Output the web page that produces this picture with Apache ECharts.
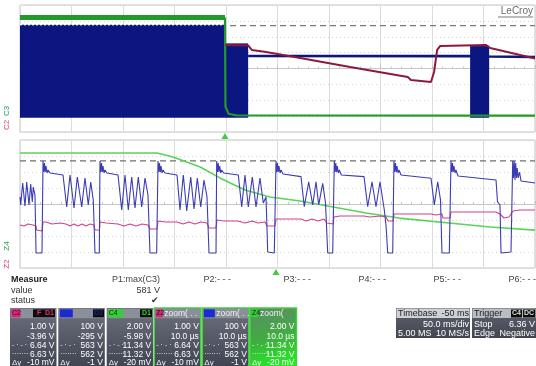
<!DOCTYPE html>
<html><head><meta charset="utf-8">
<script src="https://cdn.jsdelivr.net/npm/echarts@6.0.0/dist/echarts.min.js"></script>
<style>html,body{margin:0;padding:0;background:#fff}#c{width:536px;height:366px}</style>
</head><body><div id="c"></div>
<script>
// ===== DATA (screen divisions: x 0..10, y -4..4) =====
// Top panel (50 ms/div)
const topCursor = [[0, 2.70], [10, 2.70]];
const c3BlockTop = [[0, 2.76], [3.98, 2.76]];
const c3BurstA = [[3.98, 1.55], [4.43, 1.55]];
const c3BurstB = [[8.74, 1.40], [9.11, 1.40]];
const c3Floor = -3.10;
const c3Line = [[4.43, 0.79], [8.74, 0.78], [9.11, 0.76], [10, 0.72]];
const c4High = [[0, 3.22], [3.98, 3.22]];
const c4Low = [[3.98, 3.22], [3.99, -2.40], [4.05, -2.85], [4.20, -2.95], [10, -2.97]];
const c2Top = [[3.98, 1.48], [4.43, 1.45], [4.50, 1.17], [4.78, 1.04], [5.44, 0.66], [6.41, 0.09],
  [7.53, -0.54], [7.59, -0.72], [7.98, -0.85], [8.04, -0.22], [8.10, 1.17], [8.16, 1.42],
  [9.05, 1.48], [9.13, 1.29], [9.96, 0.66], [10, 0.63]];
const topTrigger = [3.98];

// Bottom panel (zoom, 10 us/div)
const bottomCursor = [[0, 2.69], [10, 2.69]];
const z4Green = [[0, 3.19], [2.66, 3.19], [2.82, 3.06], [2.97, 2.94], [3.50, 2.31], [3.88, 1.63],
  [4.37, 0.88], [4.85, 0.44], [5.44, 0.19], [6.08, -0.19], [6.72, -0.56], [7.36, -0.88],
  [8.33, -1.19], [9.13, -1.44], [10, -1.63]];
const z2Pink = [[0,-1.31],[0.078,-1.375],[0.155,-1.25],[0.252,-1.31],[0.311,-1.375],[0.320,-1.625],[0.427,-1.69],[0.447,-1.125],
  [0.505,-1.125],[0.621,-1.25],[0.777,-1.19],[0.893,-1.25],[0.971,-1.375],[1.049,-1.25],[1.126,-1.375],[1.204,-1.25],[1.282,-1.375],[1.359,-1.25],[1.437,-1.31],[1.456,-1.625],[1.544,-1.625],[1.553,-1.125],
  [1.670,-1.19],[1.903,-1.25],[2.019,-1.375],[2.136,-1.25],[2.252,-1.375],[2.369,-1.25],[2.485,-1.31],[2.524,-1.56],[2.660,-1.56],[2.680,-1.06],
  [2.816,-1.125],[3.049,-1.125],[3.165,-1.25],[3.282,-1.125],[3.398,-1.25],[3.515,-1.125],[3.631,-1.19],[3.670,-1.5],[3.806,-1.5],[3.825,-1.0],
  [3.961,-1.06],[4.233,-1.06],[4.369,-1.19],[4.505,-1.06],[4.621,-1.19],[4.757,-1.125],[4.796,-1.375],[4.951,-1.375],[4.971,-0.94],
  [5.107,-0.94],[5.456,-0.94],[5.553,-1.06],[5.670,-0.94],[5.786,-1.06],[5.903,-0.94],[5.961,-1.19],[6.078,-1.25],[6.097,-0.81],
  [6.214,-0.75],[6.680,-0.75],[6.796,-0.81],[6.990,-0.75],[7.107,-0.81],[7.146,-1.06],[7.243,-1.06],[7.262,-0.625],
  [7.379,-0.625],[7.981,-0.625],[8.078,-0.69],[8.194,-0.625],[8.214,-0.875],[8.350,-0.875],[8.369,-0.5],
  [8.505,-0.5],[9.243,-0.5],[9.320,-0.625],[9.398,-0.875],[9.495,-0.81],[9.573,-0.44],
  [9.709,-0.375],[10,-0.375]];
const zBlue = [
  [0,0.44],[0.014,-0.06],[0.052,1.31],[0.097,-0.13],[0.130,1.375],[0.175,-0.06],[0.208,1.25],[0.239,0.125],[0.258,1.06],[0.291,0.56],[0.311,-3.06],[0.427,-3.06],[0.447,2.69],
  [0.462,2.0],[0.476,2.56],[0.491,2.0],[0.505,2.375],[0.524,1.94],[0.544,2.125],[0.583,1.94],[0.835,1.81],
  [0.907,-0.19],[0.971,1.81],[1.049,-0.25],[1.113,1.69],[1.198,-0.19],[1.262,1.625],[1.326,-0.06],[1.373,1.375],[1.423,0.25],[1.456,-3.06],[1.540,-3.06],[1.553,2.69],
  [1.569,2.0],[1.583,2.56],[1.598,2.0],[1.612,2.375],[1.631,1.94],[1.650,2.125],[1.689,1.94],[1.903,1.81],
  [1.975,-0.375],[2.039,1.81],[2.103,-0.375],[2.169,1.69],[2.233,-0.25],[2.297,1.69],[2.363,-0.19],[2.427,1.625],[2.485,0.56],[2.524,-3.06],[2.654,-3.06],[2.680,2.69],
  [2.695,2.0],[2.709,2.56],[2.724,2.0],[2.738,2.375],[2.757,1.94],[2.777,2.125],[2.816,1.94],[3.049,1.81],
  [3.107,-0.375],[3.171,1.81],[3.237,-0.44],[3.315,1.69],[3.379,-0.31],[3.443,1.625],[3.509,-0.19],[3.573,1.5],[3.631,0.44],[3.670,-3.06],[3.806,-3.06],[3.819,2.69],
  [3.835,2.0],[3.849,2.56],[3.864,2.0],[3.878,2.375],[3.897,1.94],[3.916,2.125],[3.955,1.94],[4.239,1.81],
  [4.305,-0.19],[4.369,1.81],[4.433,-0.19],[4.511,1.69],[4.583,-0.19],[4.660,1.625],[4.724,0.06],[4.777,0.44],[4.810,-3.0],[4.938,-3.06],[4.971,2.69],
  [4.986,2.0],[5.0,2.56],[5.015,2.0],[5.029,2.375],[5.049,1.94],[5.068,2.125],[5.107,1.875],[5.456,1.71],
  [5.520,-0.17],[5.606,1.39],[5.683,-0.06],[5.748,1.39],[5.800,-0.06],[5.878,1.29],[5.932,0.06],[5.975,-3.06],[6.072,-3.06],[6.103,2.69],
  [6.118,2.0],[6.132,2.56],[6.147,2.0],[6.161,2.375],[6.181,1.94],[6.200,2.125],[6.239,1.81],[6.680,1.71],
  [6.751,-0.17],[6.835,1.39],[6.913,-0.17],[6.990,1.39],[7.074,-0.375],[7.107,-1.31],[7.140,-3.06],[7.237,-3.06],[7.262,2.69],
  [7.278,2.0],[7.291,2.56],[7.307,2.0],[7.320,2.375],[7.340,1.94],[7.359,2.125],[7.398,1.81],[7.981,1.61],
  [8.045,-0.06],[8.111,1.39],[8.165,0.25],[8.194,-3.06],[8.336,-3.06],[8.369,2.69],
  [8.384,2.0],[8.398,2.56],[8.413,2.0],[8.427,2.375],[8.447,1.94],[8.466,2.125],[8.505,1.75],[9.243,1.5],
  [9.272,0.14],[9.320,-0.06],[9.340,-3.06],[9.534,-3.0],[9.567,2.69],
  [9.583,1.625],[9.596,2.69],[9.612,1.5],[9.625,2.56],[9.641,1.625],[9.654,2.25],[9.674,1.625],[9.699,2.0],[9.728,1.44],[10,1.31]];
const bottomTrigger = [4.97];

// Measurement / channel texts
const measureNames = ['P1:max(C3)', 'P2:- - -', 'P3:- - -', 'P4:- - -', 'P5:- - -', 'P6:- - -'];
const measureValues = ['581 V', '', '', '', '', ''];
const chanTags = ['C2', '', 'C4', 'Z2', '', 'Z4'];
const chanTitle = ['', '', '', 'zoom( . .', 'zoom( . .', 'zoom('];
const chanRightTag = ['F  D1', 'D2', 'D1', '', '', ''];
const chanScale = ['1.00 V', '100 V', '2.00 V', '1.00 V', '100 V', '2.00 V'];
const chanOffset = ['-3.96 V', '-295 V', '-5.98 V', '10.0 µs', '10.0 µs', '10.0 µs'];
const chanVal1 = ['6.64 V', '563 V', '11.34 V', '6.64 V', '563 V', '11.34 V'];
const chanVal2 = ['6.63 V', '562 V', '11.32 V', '6.63 V', '562 V', '11.32 V'];
const chanDy = ['-10 mV', '-1 V', '-20 mV', '-10 mV', '-1 V', '-20 mV'];
const timebase = ['Timebase', '-50 ms', '50.0 ms/div', '5.00 MS', '10 MS/s'];
const trigger = ['Trigger', 'Stop', '6.36 V', 'Edge', 'Negative'];

// ===== STYLE / LAYOUT =====
const FONT = '"Liberation Sans", Arial, sans-serif';
const NAVY = '#0b1680', GREEN = '#23992b', MAROON = '#8c1a3c';
const BBLUE = '#3b3cb6', PINK = '#d4408a', LGREEN = '#58d458';
const chanColor = ['#e2207c', '#1c2ad6', '#2fd42f', '#e2207c', '#1c2ad6', '#2fd42f'];

function xAx(i) {
  return { type: 'value', gridIndex: i, min: 0, max: 10, interval: 1,
    axisLabel: { show: false },
    axisLine: { show: true, onZero: true, lineStyle: { color: '#c6c6c6', width: 1 } },
    axisTick: { show: true, inside: true, length: 3, lineStyle: { color: '#bdbdbd' } },
    minorTick: { show: true, splitNumber: 5, length: 2, lineStyle: { color: '#c6c6c6' } },
    splitLine: { show: true, lineStyle: { color: '#dcdcdc', width: 1 } } };
}
function yAx(i) {
  return { type: 'value', gridIndex: i, min: -4, max: 4, interval: 1,
    axisLabel: { show: false }, axisLine: { show: false }, axisTick: { show: false },
    splitLine: { show: true, lineStyle: { color: '#d2d2d2', width: 1, type: [1, 3] } } };
}
function ln(name, gi, data, color, width, z, extra) {
  return Object.assign({ name, type: 'line', xAxisIndex: gi, yAxisIndex: gi, data,
    symbol: 'none', animation: false, silent: true, z,
    lineStyle: { color, width } }, extra || {});
}
function trigMark(x) {
  return { symbol: 'triangle', symbolSize: [7, 6], symbolOffset: [0, 4], silent: true,
    itemStyle: { color: '#3fcc3f' }, label: { show: false },
    data: x.map(v => ({ coord: [v, -4] })) };
}

const series = [
  ln('cursorTop', 0, topCursor, '#777', 1.3, 1, { lineStyle: { color: '#7a7a7a', width: 1.3, type: [6, 4] }, markPoint: trigMark(topTrigger) }),
  ln('C3 block', 0, c3BlockTop, '#ffffff', 1.4, 2, { lineStyle: { color: '#ffffff', width: 1.4, type: [2, 2] }, areaStyle: { color: NAVY, opacity: 1, origin: c3Floor } }),
  ln('C3 burst A', 0, c3BurstA, NAVY, 1, 2, { areaStyle: { color: NAVY, opacity: 1, origin: c3Floor } }),
  ln('C3 burst B', 0, c3BurstB, NAVY, 1, 2, { areaStyle: { color: NAVY, opacity: 1, origin: c3Floor } }),
  ln('C3', 0, c3Line, NAVY, 2.6, 2),
  ln('C4 high', 0, c4High, GREEN, 5, 3),
  ln('C4', 0, c4Low, GREEN, 2.2, 3),
  ln('C2', 0, c2Top, MAROON, 2, 4),
  ln('cursorBottom', 1, bottomCursor, '#777', 1.3, 1, { lineStyle: { color: '#6f6f6f', width: 1.3, type: [6, 4] }, markPoint: trigMark(bottomTrigger) }),
  ln('Z4', 1, z4Green, LGREEN, 1.6, 2),
  ln('Z2', 1, z2Pink, PINK, 1.1, 3),
  ln('Zblue', 1, zBlue, BBLUE, 1.1, 4)
];

// ===== GRAPHIC (text panels) =====
const g = [];
function txt(x, y, text, o) {
  o = o || {};
  g.push({ type: 'text', x, y, rotation: o.rot || 0, z: 100, silent: true,
    style: { text, fill: o.fill || '#333', font: (o.weight || 'normal') + ' ' + (o.size || 9) + 'px ' + FONT,
      textAlign: o.align || 'left', textVerticalAlign: 'middle' } });
}
function rect(x, y, w, h, fill, stroke, lw) {
  g.push({ type: 'rect', z: 90, silent: true, shape: { x, y, width: w, height: h },
    style: { fill, stroke: stroke || null, lineWidth: lw || 0 } });
}
// channel labels at the left edge
txt(7, 111, 'C3', { rot: Math.PI / 2, fill: '#1f9a5a', size: 8, align: 'center' });
txt(7, 125, 'C2', { rot: Math.PI / 2, fill: '#d0407a', size: 8, align: 'center' });
txt(7, 246, 'Z4', { rot: Math.PI / 2, fill: '#2aa34a', size: 8, align: 'center' });
txt(7, 264, 'Z2', { rot: Math.PI / 2, fill: '#d0407a', size: 8, align: 'center' });
// LeCroy logo
txt(533, 11, 'LeCroy', { align: 'right', fill: '#6a6a6a', size: 10 });
g.push({ type: 'line', z: 100, silent: true, shape: { x1: 498, y1: 17, x2: 533, y2: 17 }, style: { stroke: '#7a7a7a', lineWidth: 1 } });

// measure table
txt(11, 280, 'Measure', { weight: 'bold', size: 9, fill: '#222' });
txt(11, 291, 'value', { size: 9, fill: '#333' });
txt(11, 301, 'status', { size: 9, fill: '#333' });
const mRight = [160, 231, 311, 386, 461, 536];
measureNames.forEach((t, i) => {
  txt(mRight[i], 280, t, { align: 'right', size: 9, fill: '#444' });
  if (measureValues[i]) txt(mRight[i], 291, measureValues[i], { align: 'right', size: 9, fill: '#333' });
});
txt(155, 301, '✔', { align: 'center', size: 9, fill: '#333' });

// channel boxes
const boxX = [10, 58.3, 106.7, 154.3, 202.3, 250];
const tagW = [9, 13, 15, 7, 11, 7];
const rTagX = [33, 93, 140, 0, 0, 0], rTagW = [22, 11, 12, 0, 0, 0];
const rTagColor = ['#e0306a', '#1a2a90', '#2fd42f'];
const BW = 46.5;
boxX.forEach((bx, i) => {
  const right = bx + BW - 2;
  const body = i === 5
    ? new echarts.graphic.LinearGradient(0, 0, 0.3, 1, [{ offset: 0, color: '#5f8a6a' }, { offset: 0.55, color: '#3fae3f' }, { offset: 1, color: '#22ee22' }])
    : new echarts.graphic.LinearGradient(0, 0, 0, 1, [{ offset: 0, color: '#6d717c' }, { offset: 1, color: '#3d4250' }]);
  rect(bx, 308, BW, 62, body, (i === 3 || i === 4 || i === 5) ? '#41cf41' : null, (i === 3 || i === 4 || i === 5) ? 1.5 : 0);
  if (i !== 5) rect(bx + 0.8, 308.8, BW - 1.6, 9.5, '#8b8f99');
  rect(bx + 1.5, 309.3, tagW[i], 8, chanColor[i]);
  if (chanTags[i]) txt(bx + 2, 313.5, chanTags[i], { size: 7, fill: '#1a1a1a' });
  if (rTagW[i]) {
    rect(rTagX[i], 309.3, rTagW[i], 8, '#0c0c0c');
    txt(rTagX[i] + rTagW[i] - 1, 313.5, chanRightTag[i], { align: 'right', size: 7, fill: rTagColor[i], weight: 'bold' });
  }
  if (chanTitle[i]) txt(bx + 3 + tagW[i], 313.5, chanTitle[i], { size: 8.5, fill: '#f2f2f2' });
  txt(right, 327, chanScale[i], { align: 'right', size: 8.5, fill: '#fff' });
  txt(right, 336.5, chanOffset[i], { align: 'right', size: 8.5, fill: '#fff' });
  txt(bx + 2, 345.5, '- · - ·', { size: 7, fill: '#e8e8e8' });
  txt(right, 345.5, chanVal1[i], { align: 'right', size: 8.5, fill: '#fff' });
  txt(bx + 2, 354.5, '·······', { size: 7, fill: '#e8e8e8' });
  txt(right, 354.5, chanVal2[i], { align: 'right', size: 8.5, fill: '#fff' });
  txt(bx + 2, 362.5, 'Δy', { size: 8, fill: '#f0f0f0' });
  txt(right, 362.5, chanDy[i], { align: 'right', size: 8.5, fill: '#fff' });
});

// timebase box
rect(396, 308, 74, 30, new echarts.graphic.LinearGradient(0, 0, 0, 1, [{ offset: 0, color: '#5e6370' }, { offset: 1, color: '#40454f' }]));
rect(396.5, 308.5, 73, 9.5, '#cfd1d6');
txt(398, 313.5, timebase[0], { size: 9, fill: '#222' });
txt(469, 313.5, timebase[1], { align: 'right', size: 9, fill: '#222' });
txt(469, 325, timebase[2], { align: 'right', size: 9, fill: '#fff' });
txt(398, 334, timebase[3], { size: 9, fill: '#fff' });
txt(469, 334, timebase[4], { align: 'right', size: 9, fill: '#fff' });
// trigger box
rect(472, 308, 64, 30, new echarts.graphic.LinearGradient(0, 0, 0, 1, [{ offset: 0, color: '#5e6370' }, { offset: 1, color: '#40454f' }]));
rect(472.5, 308.5, 63, 9.5, '#b9bcc3');
txt(474, 313.5, trigger[0], { size: 9, fill: '#222' });
rect(511, 309.5, 11, 8, '#0c0c0c');
txt(516.5, 313.5, 'C4', { align: 'center', size: 7, fill: '#ddd', weight: 'bold' });
rect(523, 309.5, 12, 8, '#0c0c0c');
txt(529, 313.5, 'DC', { align: 'center', size: 7, fill: '#ddd', weight: 'bold' });
txt(474, 325, trigger[1], { size: 9, fill: '#fff' });
txt(535, 325, trigger[2], { align: 'right', size: 9, fill: '#fff' });
txt(474, 334, trigger[3], { size: 9, fill: '#fff' });
txt(535, 334, trigger[4], { align: 'right', size: 9, fill: '#fff' });

const chart = echarts.init(document.getElementById('c'), null, { renderer: 'canvas' });
chart.setOption({
  animation: false,
  backgroundColor: '#ffffff',
  grid: [
    { left: 20, top: 5, width: 515, height: 127, show: true, borderColor: '#c4c4c4', borderWidth: 1, backgroundColor: '#fff' },
    { left: 20, top: 140, width: 515, height: 128, show: true, borderColor: '#c4c4c4', borderWidth: 1, backgroundColor: '#fff' }
  ],
  xAxis: [xAx(0), xAx(1)],
  yAxis: [yAx(0), yAx(1)],
  series,
  graphic: g
});
</script></body></html>
